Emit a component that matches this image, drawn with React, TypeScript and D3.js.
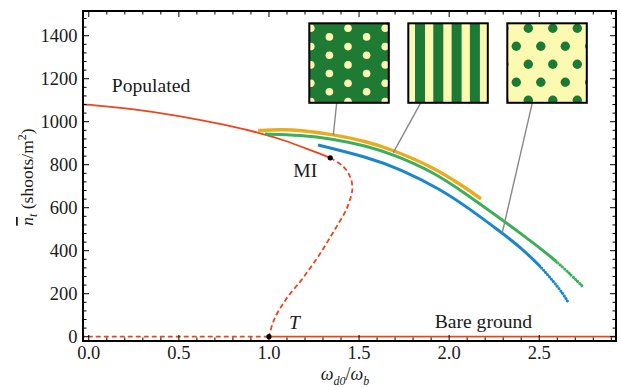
import React from 'react';
import * as d3 from 'd3';

type P = [number, number];

const xTicks = [0, 0.5, 1, 1.5, 2, 2.5];
const yTicks = [0, 200, 400, 600, 800, 1000, 1200, 1400];

const populatedStable: P[] = [
  [-0.04, 1081], [0, 1079], [0.25, 1060], [0.5, 1028], [0.75, 987], [0.95, 948],
  [1.1, 910], [1.21, 874], [1.28, 852], [1.34, 832],
];
const populatedUnstable: P[] = [
  [1.34, 832], [1.413, 791], [1.45, 744], [1.463, 690], [1.433, 599], [1.361, 492],
  [1.275, 375], [1.184, 268], [1.092, 171], [1.028, 78], [1.0, 0],
];
const bareUnstable: P[] = [[-0.05, 0], [1.0, 0]];
const bareStable: P[] = [[1.0, 0], [3.0, 0]];

const yellowBranch: P[] = [
  [0.94, 959], [1.062, 964], [1.173, 961], [1.356, 941], [1.544, 908], [1.689, 868],
  [1.911, 789], [2.077, 701], [2.177, 641],
];
const greenBranch: P[] = [
  [0.978, 943], [1.173, 938], [1.356, 920], [1.544, 887], [1.689, 848], [1.911, 767],
  [2.077, 674], [2.31, 534], [2.394, 482], [2.577, 366], [2.688, 278], [2.738, 236],
];
const blueBranch: P[] = [
  [1.272, 892], [1.544, 836], [1.728, 780], [1.95, 687], [2.1, 603], [2.294, 482],
  [2.394, 417], [2.505, 329], [2.577, 259], [2.633, 199], [2.66, 161],
];

const pointMarkers: P[] = [[1.34, 832], [1.0, 0]];
const regionLabels = [
  { text: 'Populated', x: 0.128, y: 1140 },
  { text: 'Bare ground', x: 1.92, y: 39 },
];
const insetAnchors: P[] = [[1.357, 937], [1.69, 856], [2.295, 484]];

const RED = '#e9461b';
const YELLOW = '#e6ad1e';
const GREEN = '#3cae5c';
const BLUE = '#1a88c8';
const DARKG = '#1f7a34';
const LIGHTY = '#fcf9b0';

const left = 83, right = 616, top = 11, bottom = 341;

export default function App() {
  const x = d3.scaleLinear().domain([-0.032, 2.926]).range([left, right]);
  const y = d3.scaleLinear().domain([-20, 1515]).range([bottom, top]);
  const line = d3.line<P>().x(d => x(d[0])).y(d => y(d[1])).curve(d3.curveCatmullRom.alpha(0.5));
  const smooth = d3.line<P>().x(d => x(d[0])).y(d => y(d[1])).curve(d3.curveBasis);

  const greenDotsFrom = 2.6;
  const blueDotsFrom = 2.51;

  const xMinor = d3.range(0, 2.95, 0.1);
  const yMinor = d3.range(0, 1500, 40);
  const font = '"Liberation Serif", "Times New Roman", serif';

  const insets = [
    { left: 309.3, lx: 27.4 },
    { left: 408.3, lx: 12.4 },
    { left: 507.3, lx: 25 },
  ];
  const insetTop = 23.3, insetSize = 79.5;

  const hexSpots1: P[] = [];
  for (let i = 0; i < 5; i++) {
    const cx = 1.5 + 18.6 * i;
    const off = i % 2 === 0 ? 5 : 13.6;
    for (let j = -1; j < 6; j++) hexSpots1.push([cx, off + 18.3 * j]);
  }
  const hexSpots3: P[] = [];
  for (let j = 0; j < 5; j++) {
    const cy = 5 + 18 * j;
    const off = j % 2 === 0 ? 21 : 9;
    for (let k = -1; k < 4; k++) hexSpots3.push([off + 24.5 * k, cy]);
  }
  const stripes = d3.range(0, 5).map(i => 6.7 + 18.3 * i);

  const gm = smooth(greenBranch)!;
  const bm = smooth(blueBranch)!;

  return (
    <svg width={620} height={387} style={{ position: 'absolute', left: 0, top: 0, background: '#fff' }} fontFamily={font}>
      <defs>
        <clipPath id="plotclip">
          <rect x={left} y={top} width={right - left} height={bottom - top} />
        </clipPath>
        <clipPath id="greenSolid"><rect x={0} y={0} width={x(greenDotsFrom)} height={400} /></clipPath>
        <clipPath id="greenDots"><rect x={x(greenDotsFrom)} y={0} width={200} height={400} /></clipPath>
        <clipPath id="blueSolid"><rect x={0} y={0} width={x(blueDotsFrom)} height={400} /></clipPath>
        <clipPath id="blueDots"><rect x={x(blueDotsFrom)} y={0} width={200} height={400} /></clipPath>
        {insets.map((ins, i) => (
          <clipPath id={`inset${i}`} key={i}>
            <rect x={ins.left} y={insetTop} width={insetSize} height={insetSize} />
          </clipPath>
        ))}
        <filter id="soft" x="-10%" y="-10%" width="120%" height="120%">
          <feGaussianBlur stdDeviation="0.5" />
        </filter>
      </defs>

      {/* curves */}
      <g clipPath="url(#plotclip)" fill="none">
        <path d={line(bareUnstable)!} stroke={RED} strokeWidth={1.8} strokeDasharray="5 3" />
        <path d={line(bareStable)!} stroke={RED} strokeWidth={1.8} />
        <path d={smooth(populatedStable)!} stroke={RED} strokeWidth={1.8} />
        <path d={line(populatedUnstable)!} stroke={RED} strokeWidth={1.8} strokeDasharray="5 3" />
        <path d={smooth(yellowBranch)!} stroke={YELLOW} strokeWidth={3.4} />
        <g clipPath="url(#greenSolid)"><path d={gm} stroke={GREEN} strokeWidth={3} /></g>
        <g clipPath="url(#greenDots)"><path d={gm} stroke={GREEN} strokeWidth={3} strokeDasharray="0.01 3" strokeLinecap="round" /></g>
        <g clipPath="url(#blueSolid)"><path d={bm} stroke={BLUE} strokeWidth={3} /></g>
        <g clipPath="url(#blueDots)"><path d={bm} stroke={BLUE} strokeWidth={3} strokeDasharray="0.01 3" strokeLinecap="round" /></g>
        {pointMarkers.map((p, i) => (
          <circle key={i} cx={x(p[0])} cy={y(p[1])} r={2.6} fill="#000" />
        ))}
      </g>

      {/* leader lines */}
      {insets.map((ins, i) => (
        <line key={i} x1={ins.left + ins.lx} y1={insetTop + insetSize} x2={x(insetAnchors[i][0])} y2={y(insetAnchors[i][1])}
          stroke="#888" strokeWidth={1.4} />
      ))}

      {/* insets */}
      <g clipPath="url(#inset0)">
        <rect x={insets[0].left} y={insetTop} width={insetSize} height={insetSize} fill={DARKG} />
        <g filter="url(#soft)">
          {hexSpots1.map((s, i) => (
            <circle key={i} cx={insets[0].left + s[0]} cy={insetTop + s[1]} r={3.8} fill={LIGHTY} />
          ))}
        </g>
      </g>
      <g clipPath="url(#inset1)">
        <rect x={insets[1].left} y={insetTop} width={insetSize} height={insetSize} fill={LIGHTY} />
        <g filter="url(#soft)">
          {stripes.map((s, i) => (
            <rect key={i} x={insets[1].left + s} y={insetTop - 2} width={10} height={insetSize + 4} fill={DARKG} />
          ))}
        </g>
      </g>
      <g clipPath="url(#inset2)">
        <rect x={insets[2].left} y={insetTop} width={insetSize} height={insetSize} fill={LIGHTY} />
        <g filter="url(#soft)">
          {hexSpots3.map((s, i) => (
            <circle key={i} cx={insets[2].left + s[0]} cy={insetTop + s[1]} r={4.7} fill={DARKG} />
          ))}
        </g>
      </g>
      {insets.map((ins, i) => (
        <rect key={i} x={ins.left} y={insetTop} width={insetSize} height={insetSize} fill="none" stroke="#000" strokeWidth={2} />
      ))}

      {/* frame */}
      <rect x={left} y={top} width={right - left} height={bottom - top} fill="none" stroke="#000" strokeWidth={2} />

      {/* ticks */}
      <g stroke="#000" strokeWidth={1}>
        {xMinor.map((v, i) => {
          const major = xTicks.some(t => Math.abs(t - v) < 1e-6);
          const L = major ? 6 : 3.5;
          return (
            <g key={i}>
              <line x1={x(v)} x2={x(v)} y1={bottom} y2={bottom - L} />
              <line x1={x(v)} x2={x(v)} y1={top} y2={top + L} />
            </g>
          );
        })}
        {yMinor.map((v, i) => {
          const major = yTicks.includes(v);
          const L = major ? 6 : 3.5;
          return (
            <g key={i}>
              <line x1={left} x2={left + L} y1={y(v)} y2={y(v)} />
              <line x1={right} x2={right - L} y1={y(v)} y2={y(v)} />
            </g>
          );
        })}
      </g>

      {/* tick labels */}
      <g fontSize={18.5} fill="#1a1a1a">
        {xTicks.map(t => (
          <text key={t} x={x(t)} y={359} textAnchor="middle">{d3.format('.1f')(t)}</text>
        ))}
        {yTicks.map(t => (
          <text key={t} x={77.5} y={y(t) + 6} textAnchor="end">{t}</text>
        ))}
      </g>

      {/* region labels */}
      <g fontSize={19.6} fill="#1a1a1a">
        {regionLabels.map(l => (
          <text key={l.text} x={x(l.x)} y={y(l.y)}>{l.text}</text>
        ))}
        <text x={x(pointMarkers[0][0]) - 37} y={y(pointMarkers[0][1]) + 19}>MI</text>
        <text x={x(pointMarkers[1][0]) + 20} y={y(pointMarkers[1][1]) - 8} fontStyle="italic">T</text>
      </g>

      {/* axis labels */}
      <text transform="translate(33,177) rotate(-90)" textAnchor="middle" fontSize={17.5} fill="#1a1a1a">
        <tspan fontStyle="italic" textDecoration="overline">n</tspan>
        <tspan fontStyle="italic" fontSize={12} dy={4}>t</tspan>
        <tspan dy={-4}> (shoots/m</tspan>
        <tspan fontSize={12} dy={-7}>2</tspan>
        <tspan dy={7}>)</tspan>
      </text>
      <text x={345} y={380} textAnchor="middle" fontSize={18} fill="#1a1a1a" fontStyle="italic">
        <tspan>ω</tspan>
        <tspan fontSize={12} dy={5}>d0</tspan>
        <tspan dy={-5} fontStyle="normal">/</tspan>
        <tspan>ω</tspan>
        <tspan fontSize={12} dy={5}>b</tspan>
      </text>
    </svg>
  );
}
